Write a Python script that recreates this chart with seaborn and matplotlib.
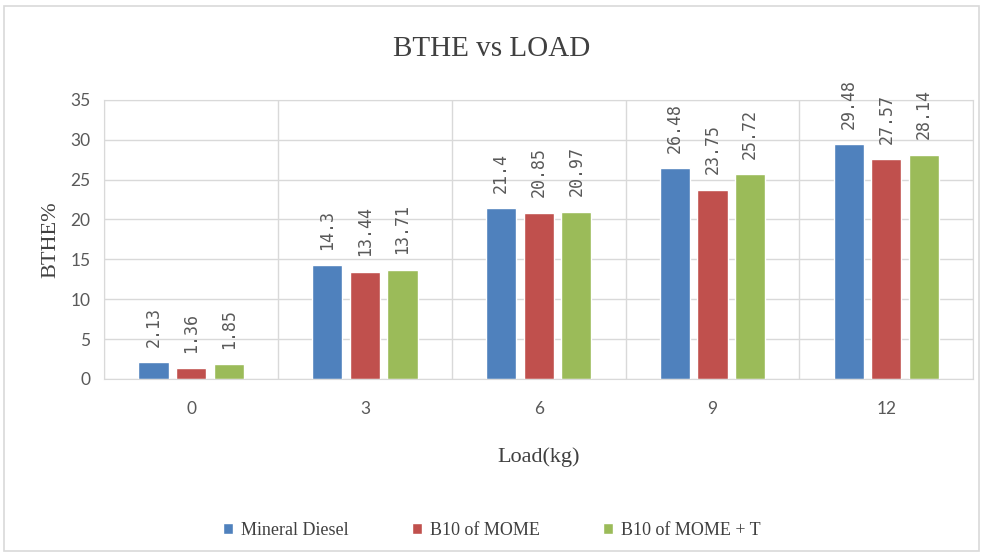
import pandas as pd
import seaborn as sns
import matplotlib.pyplot as plt
from matplotlib.patches import Rectangle

loads = ["0", "3", "6", "9", "12"]
mineral_diesel = [2.13, 14.3, 21.4, 26.48, 29.48]
b10_mome = [1.36, 13.44, 20.85, 23.75, 27.57]
b10_mome_t = [1.85, 13.71, 20.97, 25.72, 28.14]
series_names = ["Mineral Diesel", "B10 of MOME", "B10 of MOME + T"]
colors = ["#4F81BD", "#C0504D", "#9BBB59"]

rows = []
for name, vals in zip(series_names, [mineral_diesel, b10_mome, b10_mome_t]):
    for ld, v in zip(loads, vals):
        rows.append({"Load": ld, "BTHE": v, "Fuel": name})
df = pd.DataFrame(rows)

sns.set_style("white")
fig = plt.figure(figsize=(9.83, 5.58), dpi=100)
ax = fig.add_axes([0.106, 0.321, 0.884, 0.5])

sns.barplot(data=df, x="Load", y="BTHE", hue="Fuel", order=loads,
            hue_order=series_names, palette=colors, width=0.65, gap=0.2,
            saturation=1, ax=ax, legend=True)

# data labels, rotated like the original
for cont in ax.containers:
    ax.bar_label(cont, labels=[f"{v:g}" for v in cont.datavalues],
                 rotation=90, padding=11, fontsize=12, color="#595959",
                 family="DejaVu Sans Mono")

ax.set_ylim(0, 35)
ax.set_yticks(range(0, 36, 5))
ax.set_xlim(-0.5, 4.5)
ax.set_xticks([i - 0.5 for i in range(6)], minor=True)
ax.grid(axis="y", which="major", color="#d9d9d9", lw=1)
ax.grid(axis="x", which="minor", color="#d9d9d9", lw=1)
ax.set_axisbelow(True)
ax.tick_params(axis="both", which="both", length=0, labelsize=12.5,
               labelcolor="#595959")
ax.tick_params(axis="x", pad=16)
ax.tick_params(axis="y", pad=10)
for lab in ax.get_xticklabels() + ax.get_yticklabels():
    lab.set_family("Lato")
for s in ax.spines.values():
    s.set_color("#d9d9d9")

ax.set_xlabel("Load(kg)", family="Liberation Serif", fontsize=16,
              color="#404040", labelpad=22)
ax.set_ylabel("BTHE%", family="Liberation Serif", fontsize=16,
              color="#404040", labelpad=7)
fig.text(0.5, 0.913, "BTHE vs LOAD", ha="center", va="center",
         family="Liberation Serif", fontsize=21, color="#404040")

ax.legend(loc="center", bbox_to_anchor=(0.5, 0.05), bbox_transform=fig.transFigure,
          ncol=3, frameon=False, handlelength=0.6, handleheight=0.6,
          columnspacing=3.5, handletextpad=0.4,
          prop={"family": "Liberation Serif", "size": 13})
for t in ax.get_legend().get_texts():
    t.set_color("#404040")

fig.patches.append(Rectangle((0.004, 0.012), 0.992, 0.978, transform=fig.transFigure,
                             fill=False, edgecolor="#d9d9d9", lw=1.2))

fig.savefig("out.png", dpi=100, facecolor="white")
